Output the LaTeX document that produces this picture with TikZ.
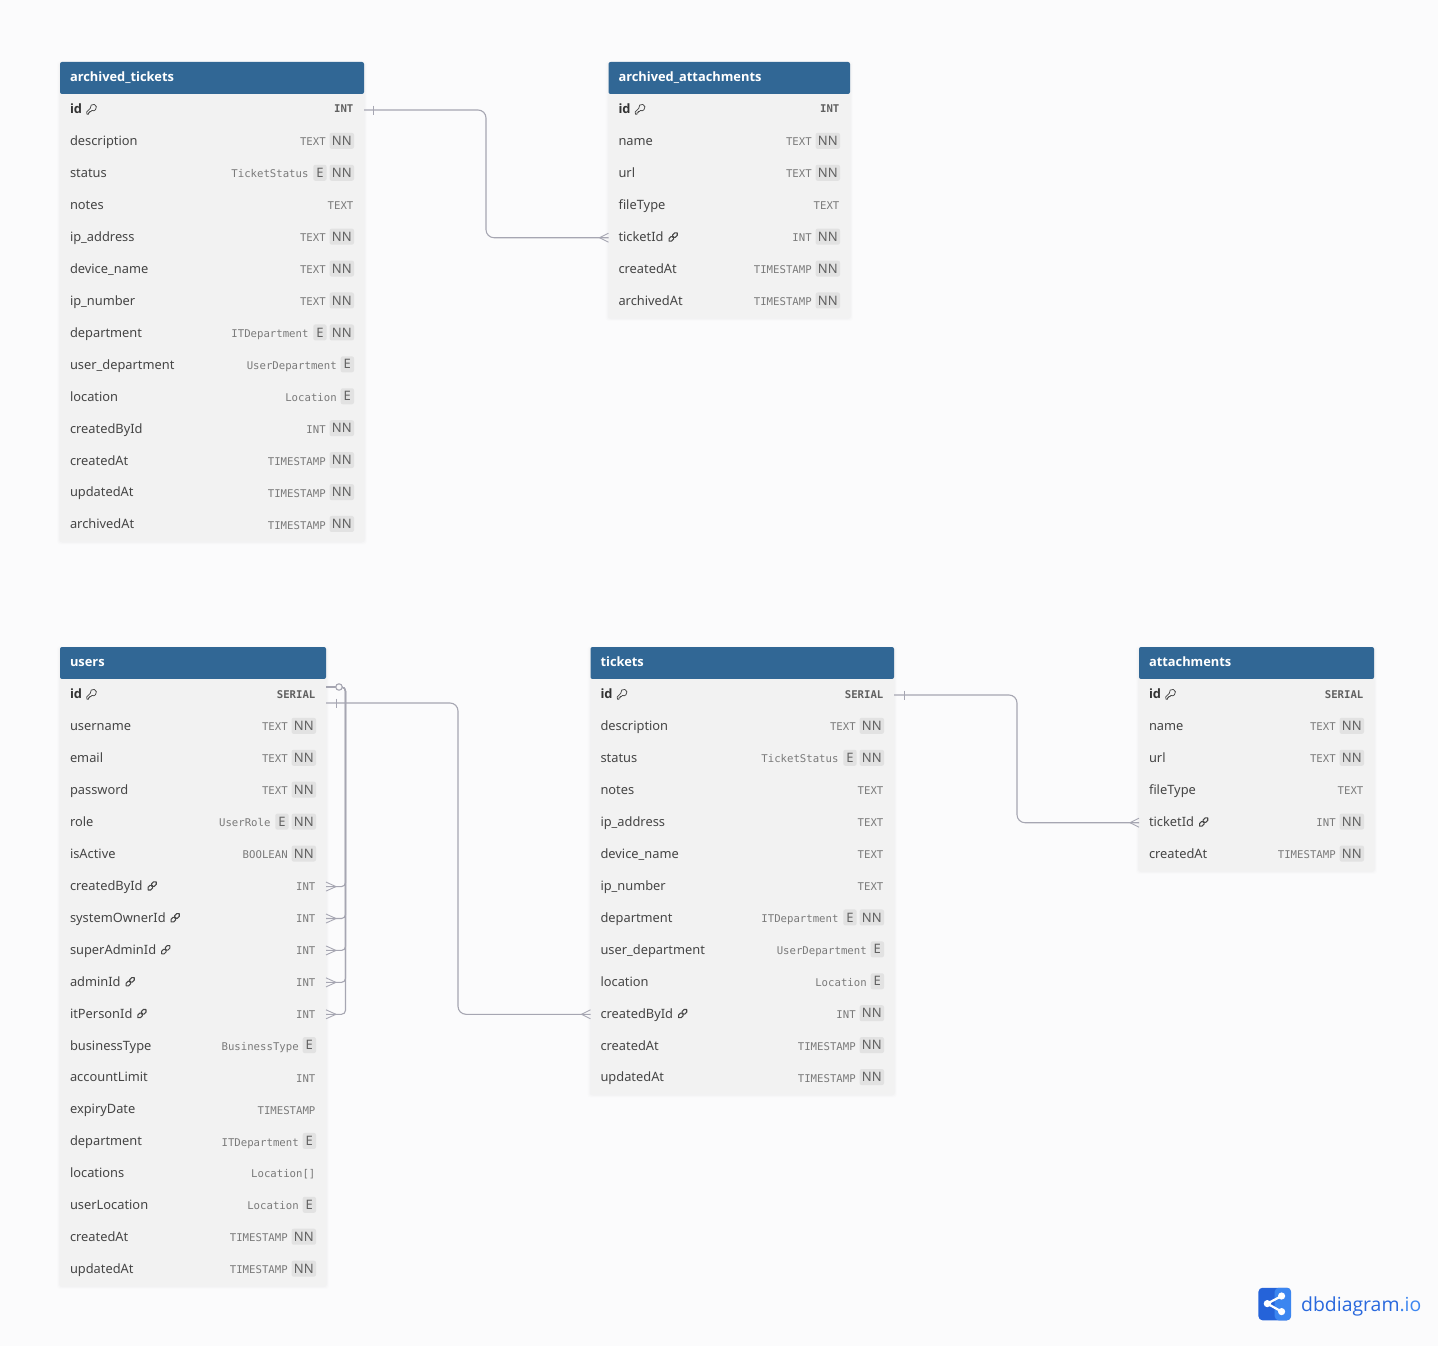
\documentclass[tikz,border=0pt]{standalone}
\usepackage{fontspec}
\usetikzlibrary{calc}
\newfontfamily\fieldfont{Noto Sans}
\newfontfamily\fieldbold{Open Sans}
\newfontfamily\typefont{DejaVu Sans Mono}
\newfontfamily\logofont{Open Sans}
\definecolor{bgc}{HTML}{FBFBFC}
\definecolor{headc}{HTML}{316795}
\definecolor{rowc}{HTML}{F2F2F2}
\definecolor{badgec}{HTML}{E2E2E2}
\definecolor{edgec}{HTML}{A6A6B2}
\definecolor{labelc}{HTML}{454545}
\definecolor{typec}{HTML}{7A7A7A}
\definecolor{logoa}{HTML}{2563D9}
\definecolor{logob}{HTML}{3C86F0}
\tikzset{
  rowbg/.style={fill=rowc,draw=none,inner sep=0pt,outer sep=0pt,minimum height=31.93pt},
  lbl/.style={inner sep=0pt,outer sep=0pt,text=labelc,font=\fieldfont\fontsize{12.85}{15}\selectfont},
  lblb/.style={lbl,font=\fieldbold\bfseries\fontsize{12.85}{15}\selectfont,text=black!80},
  typ/.style={inner sep=0pt,outer sep=0pt,text=typec,font=\typefont\fontsize{10.67}{13}\selectfont},
  typb/.style={typ,yshift=1pt,font=\typefont\bfseries\fontsize{10.67}{13}\selectfont,text=black!62},
  badge/.style={fill=badgec,rounded corners=2pt,inner sep=0pt,outer sep=0pt,minimum height=16pt,text=black!62,font=\fieldfont\fontsize{13}{15}\selectfont},
  headtxt/.style={inner sep=0pt,outer sep=0pt,text=white,font=\fieldbold\bfseries\fontsize{12.85}{15}\selectfont},
  conn/.style={draw=edgec,line width=1.1pt,rounded corners=8pt},
  endmark/.style={draw=edgec,line width=.9pt},
  pics/keyicon/.style={code={
    \draw[black!72,line width=.75pt,line join=round]
      (1,10.5) -- (0.6,8.2) -- (4.2,4.6) .. controls (3.4,1.8) and (6.2,0) .. (8.2,0.6)
      .. controls (10.6,1.2) and (11.2,4.4) .. (9.4,6) .. controls (8.2,7.2) and (7,7.2) .. (6,6.6)
      -- (5,7.6) -- (3.6,7.6) -- (3.6,9) -- (2.4,9) -- (2.4,10.4) -- cycle;
  }},
  pics/linkicon/.style={code={
    \draw[black!72,line width=1.05pt,rounded corners=1.6pt,rotate around={45:(5,5)}]
      (-0.6,3.2) rectangle (5.4,6.8);
    \draw[black!72,line width=1.05pt,rounded corners=1.6pt,rotate around={45:(5,5)}]
      (4.6,3.2) rectangle (10.6,6.8);
  }}
}
\newcount\rown
% name, x, y, width, rows, title
\newcommand{\tbl}[6]{%
  \def\tn{#1}\def\tx{#2}\def\ty{#3}\def\tw{#4}\global\rown=0
  \pgfmathsetmacro\tbot{#3+32+#5*31.93}
  \pgfmathsetmacro\tright{#2+#4}
  \foreach \sp/\op in {3/.008,2/.011,1/.015}{
    \fill[black,opacity=\op,rounded corners=3pt] (#2-\sp,#3-\sp+2) rectangle (\tright+\sp,\tbot+\sp+.5);
  }
  \node[fill=headc,rounded corners=2pt,inner sep=0pt,outer sep=0pt,minimum width=#4 pt,minimum height=32pt,anchor=north west] (#1-head) at (#2,#3) {};
  \pgfmathsetmacro\yb{#3+19.3}
  \node[headtxt,anchor=base west] (#1-title) at ({#2+10},\yb) {#6};
}
% key, label, icon, type, flags, bold
\newcommand{\fldgen}[7]{%
  \pgfmathsetmacro\yc{\ty+48+\the\rown*31.93}
  \pgfmathsetmacro\xm{\tx+\tw/2}
  \pgfmathsetmacro\xl{\tx+10}
  \pgfmathsetmacro\xr{\tx+\tw-10}
  \pgfmathsetmacro\yb{\yc+3.8}
  \pgfmathsetmacro\yt{\yc+4}
  \pgfmathsetmacro\ym{\yc-1.1}
  \node[rowbg,minimum width=\tw pt] (\tn-#1) at (\xm,\yc) {};
  \node[#6,anchor=base west] (\tn-#1-l) at (\xl,\yb) {#2};
  \ifx#3k\pic at ([xshift=4pt,yshift=10pt]\tn-#1-l.base east) {keyicon};\fi
  \ifx#3L\pic at ([xshift=4.5pt,yshift=9.5pt]\tn-#1-l.base east) {linkicon};\fi
  \ifx#50\pgfmathsetmacro\xt{\xr-.6}\fi
  \ifx#5N\pgfmathsetmacro\xt{\xr-28.3}
    \node[badge,minimum width=24.4pt,anchor=east] (\tn-#1-nn) at (\xr,\ym) {NN};\fi
  \ifx#5E\pgfmathsetmacro\xt{\xr-17.3}
    \node[badge,minimum width=13.3pt,anchor=east] (\tn-#1-e) at (\xr,\ym) {E};\fi
  \ifx#5B\pgfmathsetmacro\xt{\xr-45.5}
    \node[badge,minimum width=24.4pt,anchor=east] (\tn-#1-nn) at (\xr,\ym) {NN};
    \pgfmathsetmacro\xe{\xr-27.4}
    \node[badge,minimum width=13.3pt,anchor=east] (\tn-#1-e) at (\xe,\ym) {E};\fi
  \node[#7,anchor=base east] (\tn-#1-t) at (\xt,\yt) {#4};
  \global\advance\rown by 1
}
\newcommand{\fld}[5]{\fldgen{#1}{#2}{#3}{#4}{#5}{lbl}{typ}}
\newcommand{\pk}[2]{\fldgen{id}{id}{k}{#1}{0}{lblb}{typb}}
\begin{document}
\begin{tikzpicture}[x=1pt,y=-1pt]
\useasboundingbox (0,0) rectangle (1438,1346);
\fill[bgc] (0,0) rectangle (1438,1346);

\tbl{at}{60}{62}{304}{14}{archived\_tickets}
\pk{INT}{}
\fld{description}{description}{0}{TEXT}{N}
\fld{status}{status}{0}{TicketStatus}{B}
\fld{notes}{notes}{0}{TEXT}{0}
\fld{ipaddress}{ip\_address}{0}{TEXT}{N}
\fld{devicename}{device\_name}{0}{TEXT}{N}
\fld{ipnumber}{ip\_number}{0}{TEXT}{N}
\fld{department}{department}{0}{ITDepartment}{B}
\fld{userdepartment}{user\_department}{0}{UserDepartment}{E}
\fld{location}{location}{0}{Location}{E}
\fld{createdById}{createdById}{0}{INT}{N}
\fld{createdAt}{createdAt}{0}{TIMESTAMP}{N}
\fld{updatedAt}{updatedAt}{0}{TIMESTAMP}{N}
\fld{archivedAt}{archivedAt}{0}{TIMESTAMP}{N}

\tbl{aa}{608.5}{62}{241.5}{7}{archived\_attachments}
\pk{INT}{}
\fld{name}{name}{0}{TEXT}{N}
\fld{url}{url}{0}{TEXT}{N}
\fld{fileType}{fileType}{0}{TEXT}{0}
\fld{ticketId}{ticketId}{L}{INT}{N}
\fld{createdAt}{createdAt}{0}{TIMESTAMP}{N}
\fld{archivedAt}{archivedAt}{0}{TIMESTAMP}{N}

\tbl{us}{60}{647}{266}{19}{users}
\pk{SERIAL}{}
\fld{username}{username}{0}{TEXT}{N}
\fld{email}{email}{0}{TEXT}{N}
\fld{password}{password}{0}{TEXT}{N}
\fld{role}{role}{0}{UserRole}{B}
\fld{isActive}{isActive}{0}{BOOLEAN}{N}
\fld{createdById}{createdById}{L}{INT}{0}
\fld{systemOwnerId}{systemOwnerId}{L}{INT}{0}
\fld{superAdminId}{superAdminId}{L}{INT}{0}
\fld{adminId}{adminId}{L}{INT}{0}
\fld{itPersonId}{itPersonId}{L}{INT}{0}
\fld{businessType}{businessType}{0}{BusinessType}{E}
\fld{accountLimit}{accountLimit}{0}{INT}{0}
\fld{expiryDate}{expiryDate}{0}{TIMESTAMP}{0}
\fld{department}{department}{0}{ITDepartment}{E}
\fld{locations}{locations}{0}{Location[]}{0}
\fld{userLocation}{userLocation}{0}{Location}{E}
\fld{createdAt}{createdAt}{0}{TIMESTAMP}{N}
\fld{updatedAt}{updatedAt}{0}{TIMESTAMP}{N}

\tbl{ti}{590.5}{647}{303.5}{13}{tickets}
\pk{SERIAL}{}
\fld{description}{description}{0}{TEXT}{N}
\fld{status}{status}{0}{TicketStatus}{B}
\fld{notes}{notes}{0}{TEXT}{0}
\fld{ipaddress}{ip\_address}{0}{TEXT}{0}
\fld{devicename}{device\_name}{0}{TEXT}{0}
\fld{ipnumber}{ip\_number}{0}{TEXT}{0}
\fld{department}{department}{0}{ITDepartment}{B}
\fld{userdepartment}{user\_department}{0}{UserDepartment}{E}
\fld{location}{location}{0}{Location}{E}
\fld{createdById}{createdById}{L}{INT}{N}
\fld{createdAt}{createdAt}{0}{TIMESTAMP}{N}
\fld{updatedAt}{updatedAt}{0}{TIMESTAMP}{N}

\tbl{ac}{1139}{647}{235}{6}{attachments}
\pk{SERIAL}{}
\fld{name}{name}{0}{TEXT}{N}
\fld{url}{url}{0}{TEXT}{N}
\fld{fileType}{fileType}{0}{TEXT}{0}
\fld{ticketId}{ticketId}{L}{INT}{N}
\fld{createdAt}{createdAt}{0}{TIMESTAMP}{N}

% connector waypoints
\coordinate (bendA) at (486,170);
\coordinate (bendB) at (1017,760);
\coordinate (bendC) at (458,860);
\coordinate (bendD) at (345.5,800);

% one-to-many connectors
\draw[conn] (at-id.east) -| (bendA) |- (aa-ticketId.west);
\draw[conn] (ti-id.east) -| (bendB) |- (ac-ticketId.west);
\draw[conn] ([yshift=-8pt]us-id.east) -| (bendC) |- (ti-createdById.west);
\foreach \f in {createdById,systemOwnerId,superAdminId,adminId,itPersonId}{
  \draw[conn,rounded corners=4pt] ([yshift=8pt]us-id.east) -| (bendD) |- (us-\f.east);
  \draw[endmark] ([xshift=10pt]us-\f.east) -- ([yshift=4.5pt]us-\f.east);
  \draw[endmark] ([xshift=10pt]us-\f.east) -- ([yshift=-4.5pt]us-\f.east);
}
% one-ends
\draw[endmark] ([xshift=9pt,yshift=4.5pt]at-id.east) -- ([xshift=9pt,yshift=-4.5pt]at-id.east);
\draw[endmark] ([xshift=10pt,yshift=4.5pt]ti-id.east) -- ([xshift=10pt,yshift=-4.5pt]ti-id.east);
\draw[endmark] ([xshift=10pt,yshift=-3.5pt]us-id.east) -- ([xshift=10pt,yshift=-12.5pt]us-id.east);
\draw[endmark,fill=bgc,line width=1.1pt] ([xshift=13pt,yshift=8pt]us-id.east) circle (3.2pt);
% many-ends
\draw[endmark] ([xshift=-9pt]aa-ticketId.west) -- ([yshift=4.5pt]aa-ticketId.west);
\draw[endmark] ([xshift=-9pt]aa-ticketId.west) -- ([yshift=-4.5pt]aa-ticketId.west);
\draw[endmark] ([xshift=-9pt]ac-ticketId.west) -- ([yshift=4.5pt]ac-ticketId.west);
\draw[endmark] ([xshift=-9pt]ac-ticketId.west) -- ([yshift=-4.5pt]ac-ticketId.west);
\draw[endmark] ([xshift=-9pt]ti-createdById.west) -- ([yshift=4.5pt]ti-createdById.west);
\draw[endmark] ([xshift=-9pt]ti-createdById.west) -- ([yshift=-4.5pt]ti-createdById.west);

% logo
\node[fill=logoa,rounded corners=4pt,inner sep=0pt,outer sep=0pt,minimum width=32.5pt,minimum height=32.5pt] (logo) at (1274.7,1304) {};
\fill[logob,rounded corners=4pt] (1274.7,1287.75) -| (1291,1320.25) -- (1274.7,1320.25) -- cycle;
\coordinate (logoL) at (1267.3,1303.6);
\coordinate (logoT) at (1281.6,1296);
\coordinate (logoB) at (1281.6,1311.6);
\draw[white,line width=2.2pt] (logoT) -- (logoL) -- (logoB);
\fill[white] (logoL) circle (3.6pt) (logoT) circle (3.6pt) (logoB) circle (3.6pt);
\node[inner sep=0pt,anchor=base west,font=\logofont\fontsize{19.4}{24}\selectfont,text=logoa!85!logob] (logotext) at (1301,1311) {dbdiagram\textcolor{logob}{.io}};
\end{tikzpicture}
\end{document}
